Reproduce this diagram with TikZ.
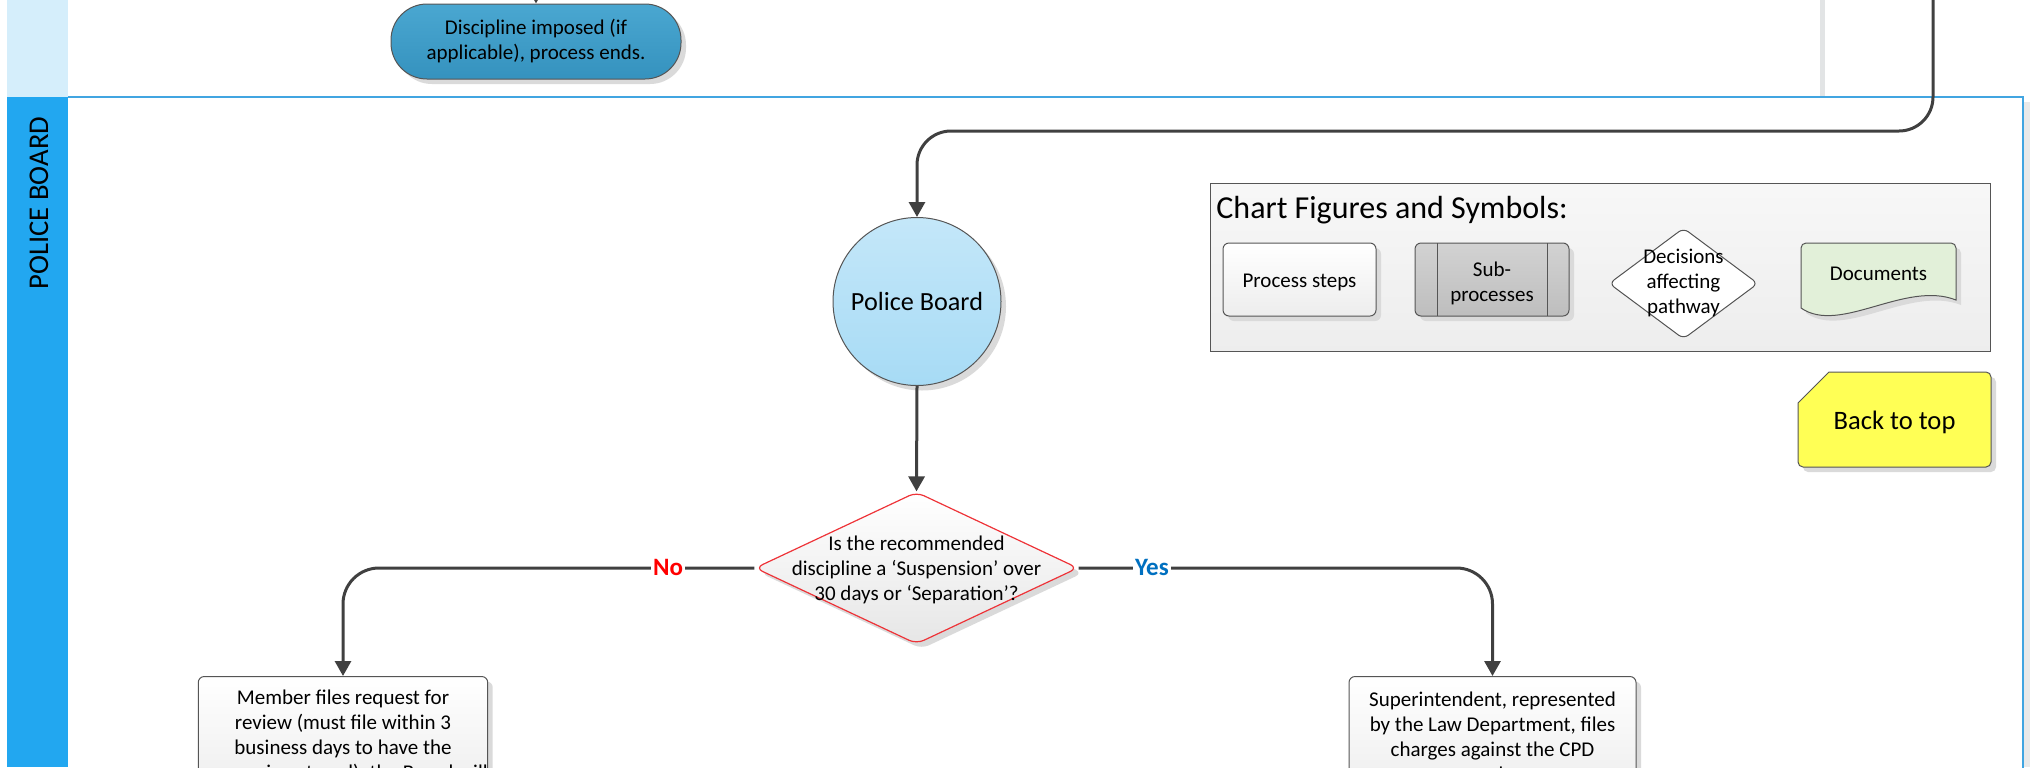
\documentclass[tikz,border=0pt]{standalone}
\usepackage{fontspec}
\setmainfont{Carlito}
\usetikzlibrary{shapes.geometric,shadows,arrows.meta}
\definecolor{connc}{HTML}{404040}
\definecolor{boxc}{HTML}{555555}
\definecolor{laneblue}{HTML}{22A7F0}
\definecolor{lanelight}{HTML}{D5EEFB}
\definecolor{lanebord}{HTML}{41A5E1}
\definecolor{shadc}{HTML}{DADADA}
\definecolor{greyline}{HTML}{E2E4E5}
\definecolor{termtop}{HTML}{4AA7D1}
\definecolor{termbot}{HTML}{3592BE}
\definecolor{pbtop}{HTML}{C4E7F9}
\definecolor{pbbot}{HTML}{A7DBF5}
\definecolor{redc}{HTML}{EE3338}
\definecolor{decb}{HTML}{E6E6E6}
\definecolor{procb}{HTML}{EDEDED}
\definecolor{subtop}{HTML}{D2D2D2}
\definecolor{subbot}{HTML}{BEBEBE}
\definecolor{docc}{HTML}{E2F0D9}
\definecolor{yellowc}{HTML}{FFFF55}
\definecolor{noc}{HTML}{FF0000}
\definecolor{yesc}{HTML}{0070C0}
\begin{document}
\begin{tikzpicture}[x=0.5pt,y=-0.5pt,
  conn/.style={draw=connc, line width=1.5pt, -{Triangle[length=7.5pt,width=8pt]}},
  shad/.style={drop shadow={shadow xshift=2.5pt,shadow yshift=-2.5pt,fill=shadc,opacity=1}},
  body/.style={font=\fontsize{10.5}{12.5}\selectfont, align=center, text=black},
  procbox/.style={draw=boxc, line width=0.5pt, rounded corners=3pt, top color=white, bottom color=procb, shad, body, inner sep=0pt},
  lab/.style={fill=white, inner sep=1pt, font=\bfseries\fontsize{12.5}{14}\selectfont},
]
\useasboundingbox (0,0) rectangle (2030,767);
% lanes
\fill[lanelight] (7,0) rectangle (68,97);
\fill[laneblue] (7,97) rectangle (68,767);
\fill[greyline] (1820,0) rectangle (1825,97);
\fill[shadc!60] (2024,102) rectangle (2030,767);
\draw[lanebord, line width=0.8pt] (68,97) -- (2023,97) -- (2023,780);
\node[rotate=90, font=\fontsize{14.3}{16}\selectfont] (lanelab) at (39,203) {POLICE BOARD};

% terminator top
\node[draw=boxc, line width=0.5pt, rounded corners=18pt, top color=termtop, bottom color=termbot, shad,
      minimum width=145pt, minimum height=37.5pt, inner sep=0pt, body] (term) at (536,41.5)
      {Discipline imposed (if\\applicable), process ends.};
\coordinate (tin) at (536,-30);
\draw[conn] (tin) -- (term.north);

% police board circle
\node[circle, draw=boxc, line width=0.5pt, top color=pbtop, bottom color=pbbot, shad,
      minimum size=84pt, inner sep=0pt, font=\fontsize{13.1}{15}\selectfont] (pb) at (917,301.5) {Police Board};
\coordinate (tin2) at (1933,-10);
\coordinate (bend) at (1933,131);
\draw[conn, rounded corners=17pt] (tin2) -- (bend) -| (pb.north);

% decision
\node[diamond, draw=redc, line width=0.6pt, top color=white, bottom color=decb, shad,
      minimum width=161.5pt, minimum height=76pt, inner sep=0pt, rounded corners=4pt] (dec) at (916.5,568) {};
\node[body] (dect) at (916.5,569.5) {Is the recommended\\discipline a ‘Suspension’ over\\30 days or ‘Separation’?};
\draw[conn] (pb.south) -- (dec.north);

% bottom boxes
\node[procbox, minimum width=144pt, minimum height=60pt, anchor=north] (lbox) at (343,676)
  {Member files request for\\review (must file within 3\\business days to have the\\suspension stayed), the Board will};
\node[procbox, minimum width=143.5pt, minimum height=60pt, anchor=north] (rbox) at (1492.5,676)
  {Superintendent, represented\\by the Law Department, files\\charges against the CPD\\member.};
\draw[conn, rounded corners=18pt] (dec.west) -| (lbox.north);
\draw[conn, rounded corners=18pt] (dec.east) -| (rbox.north);
\node[lab, text=noc] (no) at (668,567) {No};
\node[lab, text=yesc] (yes) at (1152,567) {Yes};

% legend
\node[draw=boxc, line width=0.5pt, top color=white!97!black, bottom color=white!93!black,
      minimum width=390pt, minimum height=84pt, inner sep=0pt, anchor=north west] (legend) at (1210,183) {};
\node[anchor=west, inner sep=0pt, font=\fontsize{16}{19}\selectfont] (legt) at (1216,210) {Chart Figures and Symbols:};
\node[procbox, minimum width=76.5pt, minimum height=36.5pt] (lproc) at (1299.5,279.5) {};
\node[body] (lproct) at (1299.5,282.5) {Process steps};
\node[procbox, top color=subtop, bottom color=subbot, minimum width=77pt, minimum height=36.5pt] (lsub) at (1492,279.5) {};
\node[body] (lsubt) at (1492,283.5) {Sub-\\processes};
\draw[boxc, line width=0.5pt] (1437,243) -- (1437,316) (1547,243) -- (1547,316);
\node[diamond, draw=boxc, line width=0.5pt, fill=white, minimum width=74.5pt, minimum height=55.5pt,
      inner sep=0pt, rounded corners=3pt] (ldec) at (1683.5,283.5) {};
\node[body] (ldect) at (1683.5,283) {Decisions\\affecting\\pathway};
\path[draw=boxc, line width=0.5pt, fill=docc, shad]
  (1801,308) -- (1801,248) [rounded corners=2.5pt] -- (1801,243) -- (1956,243) [sharp corners] -- (1956,300)
  .. controls (1905,280) and (1840,335) .. (1801,308) -- cycle;
\node[body] (ldoc) at (1878.5,273.5) {Documents};

% back to top
\draw[draw=boxc, line width=0.5pt, fill=yellowc, shad]
  (1798,403) -- (1829,372) [rounded corners=2.5pt] -- (1991,372) -- (1991,467) -- (1798,467) [sharp corners] -- cycle;
\node[font=\fontsize{13.3}{15}\selectfont] (btt) at (1894.5,422) {Back to top};
\end{tikzpicture}
\end{document}
